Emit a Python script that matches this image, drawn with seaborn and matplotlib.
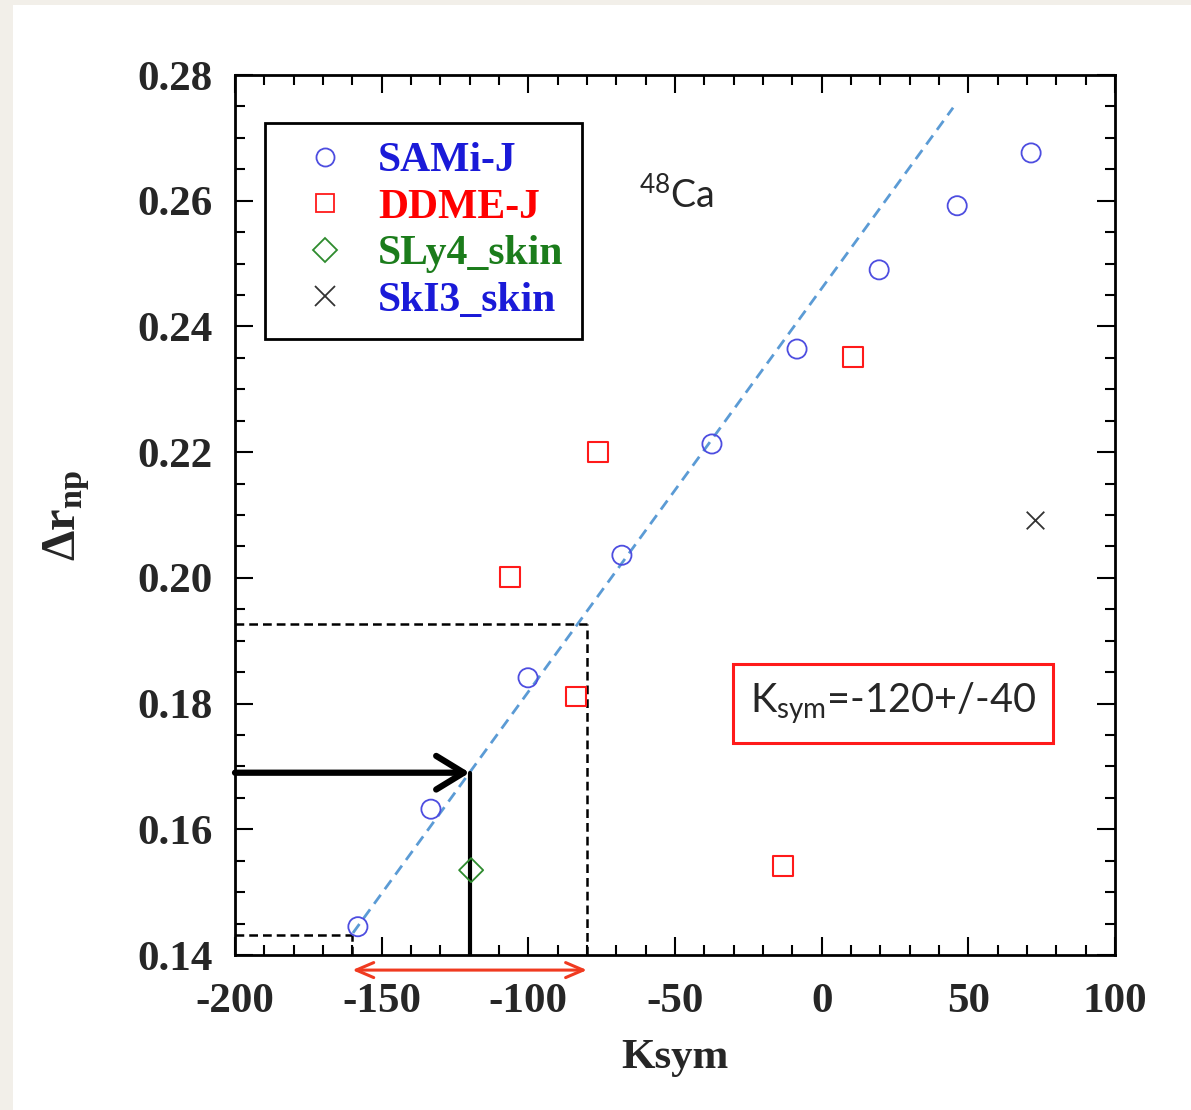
import numpy as np
import pandas as pd
import matplotlib
matplotlib.use("Agg")
import matplotlib.pyplot as plt
from matplotlib.lines import Line2D
from matplotlib.patches import Rectangle
from matplotlib.ticker import MultipleLocator
import seaborn as sns

# ---- data -------------------------------------------------------------
sami_ksym = [-158.1, -133.2, -100.1, -68.1, -37.4, -8.4, 19.6, 46.2, 71.4]
sami_drnp = [0.1445, 0.1632, 0.1841, 0.2036, 0.2213, 0.2364, 0.2490, 0.2592, 0.2676]

ddme_ksym = [-106.2, -76.2, -83.7, 10.7, -13.2]
ddme_drnp = [0.2001, 0.2200, 0.1811, 0.2351, 0.1542]

sly4_ksym = [-119.5]
sly4_drnp = [0.1535]

ski3_ksym = [72.8]
ski3_drnp = [0.2092]

# linear fit through the SAMi-J family
fit_ksym = [-159.8, 44.8]
fit_drnp = [0.1435, 0.2748]

# extracted constraint: Ksym = -120 +/- 40
ksym_center, ksym_err = -120, 40
drnp_center, drnp_lo, drnp_hi = 0.169, 0.1432, 0.1927

x_ticks = [-200, -150, -100, -50, 0, 50, 100]
y_ticks = [0.14, 0.16, 0.18, 0.20, 0.22, 0.24, 0.26, 0.28]

# ---- style ------------------------------------------------------------
sns.set_style("ticks")
plt.rcParams["font.family"] = ["Liberation Serif", "DejaVu Serif"]
plt.rcParams["mathtext.fontset"] = "custom"
plt.rcParams["mathtext.rm"] = "Lato"
plt.rcParams["mathtext.it"] = "Lato:italic"
plt.rcParams["mathtext.bf"] = "Liberation Serif:bold"

W, H = 1191, 1110
fig = plt.figure(figsize=(W / 100, H / 100), dpi=100, facecolor="#f2efe9")
fig.patches.append(Rectangle((13 / W, 0), 1, 1 - 5 / H, transform=fig.transFigure,
                             facecolor="white", edgecolor="none", zorder=-10))
ax = fig.add_axes([235 / W, 155 / H, 880 / W, 880 / H])
ax.set_facecolor("white")

frames = {
    "SAMi-J": pd.DataFrame({"Ksym": sami_ksym, "drnp": sami_drnp}),
    "DDME-J": pd.DataFrame({"Ksym": ddme_ksym, "drnp": ddme_drnp}),
    "SLy4_skin": pd.DataFrame({"Ksym": sly4_ksym, "drnp": sly4_drnp}),
    "SkI3_skin": pd.DataFrame({"Ksym": ski3_ksym, "drnp": ski3_drnp}),
}
styles = {
    "SAMi-J": dict(marker="o", s=190, ec="#4d4de0", fc="none", lw=1.3),
    "DDME-J": dict(marker="s", s=200, ec="#ff1a1a", fc="none", lw=1.5),
    "SLy4_skin": dict(marker="D", s=150, ec="#2e8b2e", fc="none", lw=1.3),
    "SkI3_skin": dict(marker="x", s=160, c="#333333", lw=1.3),
}
text_colors = {"SAMi-J": "#1a1ad8", "DDME-J": "#ff0000",
               "SLy4_skin": "#1b7c1b", "SkI3_skin": "#1a1ad8"}

fit_df = pd.DataFrame({"Ksym": fit_ksym, "drnp": fit_drnp})
sns.lineplot(data=fit_df, x="Ksym", y="drnp", ax=ax, color="#5b9bd5",
             lw=2.0, linestyle=(0, (4, 2.5)), zorder=2)

for name, df in frames.items():
    sns.scatterplot(data=df, x="Ksym", y="drnp", ax=ax, legend=False,
                    zorder=3, **styles[name])

# dashed guides for the error band
dash = dict(color="black", lw=1.8, linestyle=(0, (3.5, 2)), zorder=2)
ax.plot([-200, ksym_center + ksym_err], [drnp_hi, drnp_hi], **dash)
ax.plot([ksym_center + ksym_err, ksym_center + ksym_err], [0.14, drnp_hi], **dash)
ax.plot([-200, ksym_center - ksym_err], [drnp_lo, drnp_lo], **dash)
ax.plot([ksym_center - ksym_err, ksym_center - ksym_err], [0.14, drnp_lo], **dash)

# central value: arrow in, solid drop to the axis
ax.plot([ksym_center, ksym_center], [0.14, drnp_center], color="black", lw=3, zorder=2)
ax.annotate("", xy=(ksym_center, drnp_center), xytext=(-200, drnp_center),
            arrowprops=dict(arrowstyle="->,head_length=0.9,head_width=0.55",
                            color="black", lw=4.5, mutation_scale=22,
                            shrinkA=0, shrinkB=0), zorder=4)

# red range arrow below the axis
ax.annotate("", xy=(ksym_center + ksym_err, 0.1376),
            xytext=(ksym_center - ksym_err, 0.1376),
            arrowprops=dict(arrowstyle="<->,head_length=0.7,head_width=0.3",
                            color="#f03a20", lw=2.2, mutation_scale=18,
                            shrinkA=0, shrinkB=0),
            annotation_clip=False)

ax.text(-49.6, 0.2609, r"$^{48}$Ca", fontsize=27, ha="center", va="center",
        family="Lato")
ax.text(24.3, 0.180, r"K$_{\mathrm{sym}}$=-120+/-40", fontsize=28.5, ha="center",
        va="center", family="Lato",
        bbox=dict(boxstyle="square,pad=0.42", fc="white", ec="#ff1a1a", lw=2.2))

# axes limits, ticks
ax.set_xlim(-200, 100)
ax.set_ylim(0.14, 0.28)
ax.set_xticks(x_ticks)
ax.set_yticks(y_ticks)
ax.set_xticklabels([f"{v:d}" for v in x_ticks])
ax.set_yticklabels([f"{v:.2f}" for v in y_ticks])
ax.xaxis.set_minor_locator(MultipleLocator(10))
ax.yaxis.set_minor_locator(MultipleLocator(0.005))
ax.tick_params(which="both", direction="in", top=True, right=True,
               width=1.5, color="black")
ax.tick_params(which="major", length=13)
ax.tick_params(which="minor", length=7)
ax.tick_params(axis="x", which="major", pad=20)
ax.tick_params(axis="y", which="major", pad=16)
for lab in ax.get_xticklabels() + ax.get_yticklabels():
    lab.set_fontsize(31)
    lab.set_fontweight("bold")
for sp in ax.spines.values():
    sp.set_linewidth(2.0)
    sp.set_color("black")

ax.set_xlabel("Ksym", fontsize=31, fontweight="bold")
ax.set_ylabel(r"$\mathbf{\Delta r}_{\mathbf{np}}$", fontsize=35)
ax.xaxis.set_label_coords(0.5, -0.095)
ax.yaxis.set_label_coords(-0.163, 0.5)

# legend
handles = []
for name in frames:
    st = styles[name]
    if name == "SkI3_skin":
        h = Line2D([], [], marker="x", ls="none", color=st["c"], ms=14, mew=1.3)
    else:
        h = Line2D([], [], marker=st["marker"], ls="none", mfc="none",
                   mec=st["ec"], ms=13 if name != "SLy4_skin" else 12, mew=1.3)
    handles.append(h)
leg = ax.legend(handles, list(frames.keys()), loc="upper left",
                bbox_to_anchor=(0.034, 0.945), fancybox=False, framealpha=1,
                edgecolor="black", handlelength=2.0, handletextpad=0.27,
                labelspacing=0.2, borderpad=0.45, borderaxespad=0,
                prop=dict(family="Liberation Serif", weight="bold", size=30))
leg.get_frame().set_linewidth(2.0)
for txt, name in zip(leg.get_texts(), frames):
    txt.set_color(text_colors[name])

fig.savefig("out.png", dpi=100, facecolor=fig.get_facecolor())
